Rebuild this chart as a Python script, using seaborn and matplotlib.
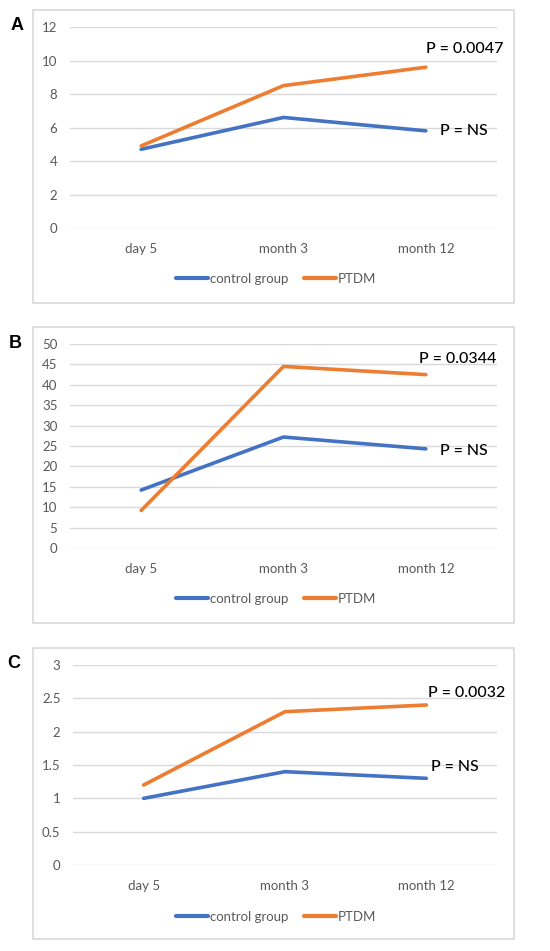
import matplotlib
matplotlib.use("Agg")
import matplotlib.pyplot as plt
from matplotlib.patches import Rectangle
import seaborn as sns
import pandas as pd

timepoints = ["day 5", "month 3", "month 12"]
groups = ["control group", "PTDM"]

control_a = [4.7, 6.6, 5.8]
ptdm_a = [4.9, 8.5, 9.6]
control_b = [14.2, 27.2, 24.3]
ptdm_b = [9.2, 44.5, 42.5]
control_c = [1.0, 1.4, 1.3]
ptdm_c = [1.2, 2.3, 2.4]

yticks_a = [0, 2, 4, 6, 8, 10, 12]
yticks_b = [0, 5, 10, 15, 20, 25, 30, 35, 40, 45, 50]
yticks_c = [0, 0.5, 1, 1.5, 2, 2.5, 3]
ytick_labels_c = ["0", "0.5", "1", "1.5", "2", "2.5", "3"]

p_sig = ["P = 0.0047", "P = 0.0344", "P = 0.0032"]
p_ns = ["P = NS", "P = NS", "P = NS"]
letters = ["A", "B", "C"]

sns.set_style("white")
plt.rcParams["font.family"] = ["Lato", "DejaVu Sans"]

BLUE = "#4472C4"
ORANGE = "#ED7D31"
GRID = "#D9D9D9"
TXT = "#595959"

W, H = 550, 951
fig = plt.figure(figsize=(W / 100, H / 100), dpi=100)


def px_axes(x0, y0, x1, y1):
    return fig.add_axes([x0 / W, 1 - y1 / H, (x1 - x0) / W, (y1 - y0) / H])


panels = [
    dict(ctrl=control_a, ptdm=ptdm_a, ticks=yticks_a, tlabels=[str(t) for t in yticks_a],
         ax=(70, 27, 497, 228), box=(33, 10, 514, 303), letter=(17, 26), leg=279,
         sig=(2.0, 10.7), ns=(2.1, 5.8)),
    dict(ctrl=control_b, ptdm=ptdm_b, ticks=yticks_b, tlabels=[str(t) for t in yticks_b],
         ax=(70, 344, 497, 548), box=(33, 327, 514, 623), letter=(15, 344), leg=599,
         sig=(1.95, 46.3), ns=(2.1, 23.8)),
    dict(ctrl=control_c, ptdm=ptdm_c, ticks=yticks_c, tlabels=ytick_labels_c,
         ax=(73, 665, 497, 865), box=(33, 648, 514, 939), letter=(14, 664), leg=917,
         sig=(2.01, 2.58), ns=(2.03, 1.47)),
]

for i, p in enumerate(panels):
    bx0, by0, bx1, by1 = p["box"]
    fig.add_artist(Rectangle((bx0 / W, 1 - by1 / H), (bx1 - bx0) / W, (by1 - by0) / H,
                             transform=fig.transFigure, fill=False, edgecolor=GRID, lw=1.2))
    ax = px_axes(*p["ax"])
    df = pd.DataFrame({
        "time": timepoints * 2,
        "value": p["ctrl"] + p["ptdm"],
        "group": [groups[0]] * 3 + [groups[1]] * 3,
    })
    sns.lineplot(data=df, x="time", y="value", hue="group", palette=[BLUE, ORANGE],
                 linewidth=2.6, ax=ax, sort=False, legend=True)
    ax.set_xlim(-0.5, 2.5)
    ax.set_ylim(p["ticks"][0], p["ticks"][-1])
    ax.set_yticks(p["ticks"])
    ax.set_yticklabels(p["tlabels"])
    ax.set_xlabel("")
    ax.set_ylabel("")
    ax.grid(axis="y", color=GRID, lw=1)
    ax.set_axisbelow(True)
    for s in ax.spines.values():
        s.set_visible(False)
    ax.tick_params(axis="both", length=0, labelsize=9.5, colors=TXT)
    ax.tick_params(axis="y", pad=9)
    ax.tick_params(axis="x", pad=11)
    ax.set_facecolor("none")

    handles, labels = ax.get_legend_handles_labels()
    for h in handles:
        h.set_linewidth(3)
    ax.legend(handles, labels, loc="center", bbox_to_anchor=(276 / W, 1 - p["leg"] / H),
              bbox_transform=fig.transFigure, ncol=2, frameon=False, fontsize=9.5,
              handlelength=2.4, handletextpad=0.15, columnspacing=1.2, labelcolor=TXT)

    ax.text(p["sig"][0], p["sig"][1], p_sig[i], ha="left", va="center", fontsize=11.5,
            color="black", fontweight="medium", clip_on=False)
    ax.text(p["ns"][0], p["ns"][1], p_ns[i], ha="left", va="center", fontsize=11.5,
            color="black", fontweight="medium", clip_on=False)

    lx, ly = p["letter"]
    fig.text(lx / W, 1 - ly / H, letters[i], ha="center", va="center", fontsize=13,
             fontweight="bold", color="black", family="Liberation Sans")

fig.savefig("out.png", dpi=100)
